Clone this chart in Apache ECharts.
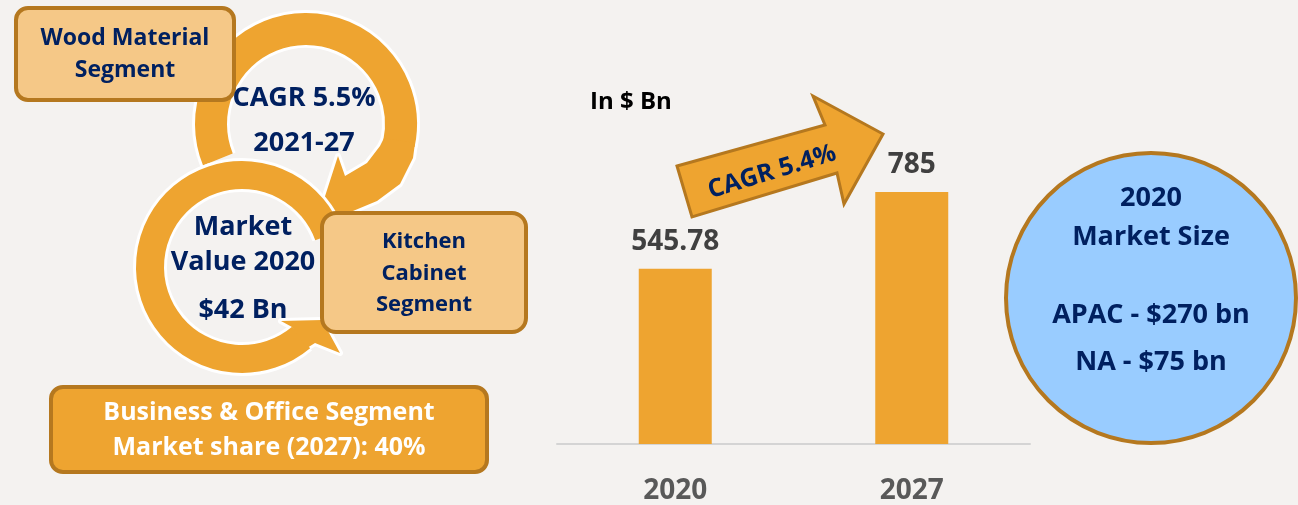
<!DOCTYPE html>
<html>
<head>
<meta charset="utf-8">
<script src="https://cdn.jsdelivr.net/npm/echarts@6/dist/echarts.min.js"></script>
<style>
  html, body { margin: 0; padding: 0; background: #f4f2f0; }
  #main { width: 1298px; height: 505px; }
</style>
</head>
<body>
<div id="main"></div>
<script>
// chart data
var years = ['2020', '2027'];
var marketValue = [545.78, 785];

// colours
var orange = '#eea430';
var lightOrange = '#f5c887';
var brown = '#b5781f';
var navy = '#002060';
var FONT = '"Open Sans", sans-serif';

function deg(a) { return a * Math.PI / 180; }

function txt(str, x, y, size, color, rot) {
  return {
    type: 'text', x: x, y: y, rotation: rot ? deg(rot) : 0, z: 10,
    style: {
      text: str, fill: color, textAlign: 'center', textVerticalAlign: 'middle',
      fontSize: size, fontWeight: 'bold', fontFamily: FONT
    }
  };
}

// circular arrow ring: white halo under, orange on top
function ring(cx, cy, r, w, a0, a1, head, z) {
  return [
    { type: 'arc', z: z, shape: { cx: cx, cy: cy, r: r, startAngle: deg(a0), endAngle: deg(a1), clockwise: true },
      style: { stroke: '#ffffff', lineWidth: w + 6, fill: null } },
    { type: 'polygon', z: z, shape: { points: head },
      style: { fill: '#ffffff', stroke: '#ffffff', lineWidth: 6, lineJoin: 'round' } },
    { type: 'arc', z: z, shape: { cx: cx, cy: cy, r: r, startAngle: deg(a0), endAngle: deg(a1), clockwise: true },
      style: { stroke: orange, lineWidth: w, fill: null } },
    { type: 'polygon', z: z, shape: { points: head }, style: { fill: orange } }
  ];
}

var upperHead = [[384, 138], [380, 146], [367, 163], [345, 176], [338, 156], [318, 218],
  [353, 211], [377, 201], [400, 184], [413, 158], [415, 143]];
var lowerHead = [[292, 327], [281, 321], [322, 320], [340, 353], [315, 343], [307, 348]];

var graphics = []
  .concat(ring(306, 124, 95, 32, 158, 372, upperHead, 1))
  .concat(ring(242, 267, 92, 28, 50, 340, lowerHead, 2))
  .concat([
    // wood material box
    { type: 'rect', z: 5, shape: { x: 16, y: 8, width: 218, height: 92, r: 12 },
      style: { fill: lightOrange, stroke: brown, lineWidth: 4 } },
    txt('Wood Material', 125, 38, 23, navy),
    txt('Segment', 125, 70, 23, navy),
    // kitchen cabinet box
    { type: 'rect', z: 5, shape: { x: 322, y: 213, width: 204, height: 119, r: 14 },
      style: { fill: lightOrange, stroke: brown, lineWidth: 4 } },
    txt('Kitchen', 424, 242, 22, navy),
    txt('Cabinet', 424, 274, 22, navy),
    txt('Segment', 424, 305, 22, navy),
    // business box
    { type: 'rect', z: 5, shape: { x: 51, y: 387, width: 436, height: 85, r: 12 },
      style: { fill: orange, stroke: brown, lineWidth: 4 } },
    txt('Business & Office Segment', 269, 413, 25, '#ffffff'),
    txt('Market share (2027): 40%', 269, 448, 25, '#ffffff'),
    // ring texts
    txt('CAGR 5.5%', 304, 98, 27, navy),
    txt('2021-27', 304, 143, 27, navy),
    txt('Market', 243, 227, 27, navy),
    txt('Value 2020', 243, 262, 27, navy),
    txt('$42 Bn', 243, 310, 27, navy),
    // unit
    { type: 'text', x: 590, y: 102, z: 10,
      style: { text: 'In $ Bn', fill: '#000000', textAlign: 'left', textVerticalAlign: 'middle',
        fontSize: 24, fontWeight: 'bold', fontFamily: FONT } },
    // CAGR arrow
    { type: 'polygon', z: 5,
      shape: { points: [[677, 166], [825, 125], [813, 96], [883, 134], [844, 204], [837, 173], [692, 217]] },
      style: { fill: orange, stroke: brown, lineWidth: 3, lineJoin: 'miter' } },
    txt('CAGR 5.4%', 772, 172, 25, navy, 17),
    // market size circle
    { type: 'circle', z: 5, shape: { cx: 1151, cy: 298, r: 145 },
      style: { fill: '#99ccff', stroke: brown, lineWidth: 4 } },
    txt('2020', 1151, 198, 27, navy),
    txt('Market Size', 1151, 237, 27, navy),
    txt('APAC - $270 bn', 1151, 315, 27, navy),
    txt('NA - $75 bn', 1151, 362, 27, navy)
  ]);

var chart = echarts.init(document.getElementById('main'));
chart.setOption({
  backgroundColor: '#f4f2f0',
  animation: false,
  grid: { left: 557, right: 268, top: 123, bottom: 56, containLabel: false },
  xAxis: {
    type: 'category',
    data: years,
    axisLine: { lineStyle: { color: '#d4d4d4', width: 2 } },
    axisTick: { show: false },
    axisLabel: { margin: 33, fontSize: 28, fontWeight: 'bold', color: '#595959', fontFamily: FONT }
  },
  yAxis: { type: 'value', min: 0, max: 1000, show: false, splitLine: { show: false } },
  series: [{
    type: 'bar',
    data: marketValue,
    barWidth: 73,
    itemStyle: { color: orange },
    label: {
      show: true, position: 'top', distance: 13,
      fontSize: 28, fontWeight: 'bold', color: '#404040', fontFamily: FONT
    }
  }],
  graphic: { elements: graphics }
});
</script>
</body>
</html>
